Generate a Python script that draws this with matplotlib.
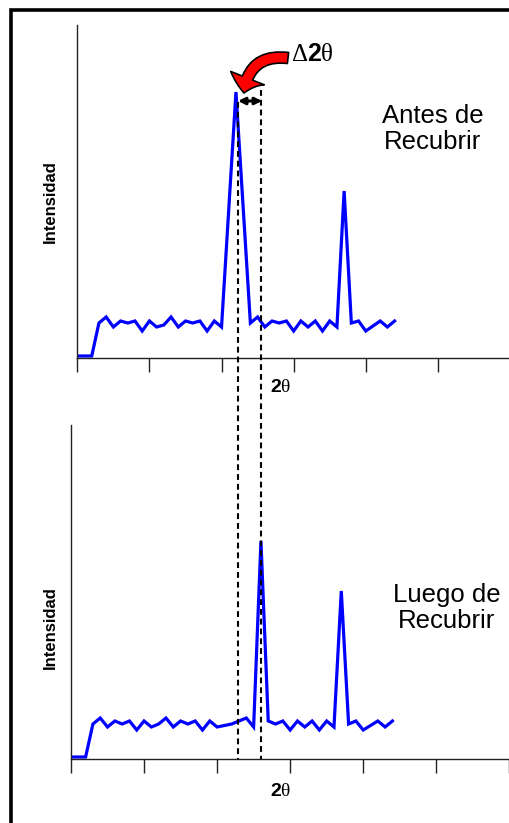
import matplotlib
matplotlib.use("Agg")
import matplotlib.pyplot as plt
from matplotlib.lines import Line2D
from matplotlib.patches import FancyArrowPatch, ArrowStyle

plt.rcParams['font.family'] = ['Liberation Sans', 'DejaVu Sans']
plt.rcParams['mathtext.fontset'] = 'custom'
plt.rcParams['mathtext.rm'] = 'Liberation Serif'
plt.rcParams['mathtext.it'] = 'Liberation Serif:italic'
plt.rcParams['mathtext.bf'] = 'Liberation Sans:bold'

# difractogramas (indice de paso, intensidad arbitraria)
x_antes = [0, 2, 3, 4, 5, 6, 7, 8, 9, 10, 11, 12, 13, 14, 15, 16, 17, 18, 19, 20,
           22, 24, 25, 26, 27, 28, 29, 30, 31, 32, 33, 34, 35, 36, 37, 38, 39, 40,
           42, 43, 44]
y_antes = [2, 2, 35, 41, 31, 37, 35, 37, 27, 37, 31, 33, 41, 31, 37, 35, 37, 27, 37, 31,
           266, 35, 41, 31, 37, 35, 37, 27, 37, 31, 37, 27, 37, 31, 167, 35, 37, 27,
           37, 31, 37]

x_luego = [0, 2, 3, 4, 5, 6, 7, 8, 9, 10, 11, 12, 13, 14, 15, 16, 17, 18, 19, 20,
           22, 24, 25, 26, 27, 28, 29, 30, 31, 32, 33, 34, 35, 36, 37, 38, 39, 40,
           42, 43, 44]
y_luego = [2, 2, 35, 41, 32, 38, 35, 38, 29, 38, 32, 35, 41, 32, 38, 35, 38, 29, 38, 32,
           35, 41, 32, 218, 38, 35, 38, 29, 38, 32, 38, 29, 38, 32, 168, 35, 38, 29,
           38, 32, 38]

titulos = ["Antes de\nRecubrir", "Luego de\nRecubrir"]
xticks = [0, 10, 20, 30, 40, 50, 60]

W, H = 510, 823
fig = plt.figure(figsize=(W / 100, H / 100), dpi=100)


def fx(px, py):
    return (px / W, 1 - py / H)


# paneles: (x0, y_base, y_top, px por unidad)
paneles = [(77.3, 358, 25, 7.33), (71, 759, 425, 7.305)]
datos = [(x_antes, y_antes), (x_luego, y_luego)]
pos_titulo = [(433, 129), (447, 608)]
pos_ylabel = [202, 628]
pos_xlabel = [388, 792]

for k, (x0, yb, yt, esc) in enumerate(paneles):
    ax = fig.add_axes([x0 / W, (H - yb) / H, (W - x0) / W, (yb - yt) / H])
    xs, ys = datos[k]
    ax.plot(xs, ys, color='#0000ff', lw=2.3, solid_joinstyle='miter')
    ax.set_xlim(0, (W - x0) / esc)
    ax.set_ylim(0, yb - yt)
    ax.set_xticks(xticks)
    ax.set_xticklabels([])
    ax.set_yticks([])
    for s in ['top', 'right']:
        ax.spines[s].set_visible(False)
    for s in ['left', 'bottom']:
        ax.spines[s].set_color('#222222')
        ax.spines[s].set_linewidth(1.0)
    ax.tick_params(axis='x', direction='out', length=10, width=1.0, color='#222222')
    ax.patch.set_alpha(0)

    tx, ty = pos_titulo[k]
    fig.text(*fx(tx, ty), titulos[k], ha='center', va='center', fontsize=18.5,
             linespacing=1.12)
    fig.text(*fx(50, pos_ylabel[k]), "Intensidad", rotation=90, ha='center',
             va='center', fontsize=12, fontweight='bold')
    fig.text(*fx(281, pos_xlabel[k]), r"$\mathbf{2}\mathrm{\theta}$", ha='center',
             va='center', fontsize=14)

# lineas punteadas que cruzan ambos paneles
for xd, ytop in [(237.7, 102), (260.7, 90)]:
    fig.add_artist(Line2D([xd / W, xd / W], [1 - ytop / H, 1 - 759 / H],
                          transform=fig.transFigure, color='black', lw=1.5,
                          dashes=[2.8, 1.9]))

# flecha doble
fig.add_artist(FancyArrowPatch(fx(238, 101), fx(262, 101), transform=fig.transFigure,
                               arrowstyle='<|-|>', mutation_scale=10, color='black',
                               lw=2.2, shrinkA=0, shrinkB=0))

# flecha roja curva
fig.add_artist(FancyArrowPatch(fx(288, 58), fx(244, 93), transform=fig.transFigure,
                               connectionstyle='arc3,rad=0.5',
                               arrowstyle=ArrowStyle.Simple(head_length=11, head_width=26,
                                                            tail_width=8),
                               mutation_scale=1, facecolor='#ff0000', edgecolor='black',
                               lw=1.2, shrinkA=0, shrinkB=0))

fig.text(*fx(291, 54), r"$\mathrm{\Delta}\mathbf{2}\mathrm{\theta}$", ha='left',
         va='center', fontsize=18)

# marco
fig.add_artist(Line2D([11 / W, 11 / W, 1], [0, 1 - 9.5 / H, 1 - 9.5 / H],
                      transform=fig.transFigure, color='black', lw=2.6,
                      solid_joinstyle='miter'))

fig.savefig("out.png", dpi=100)
